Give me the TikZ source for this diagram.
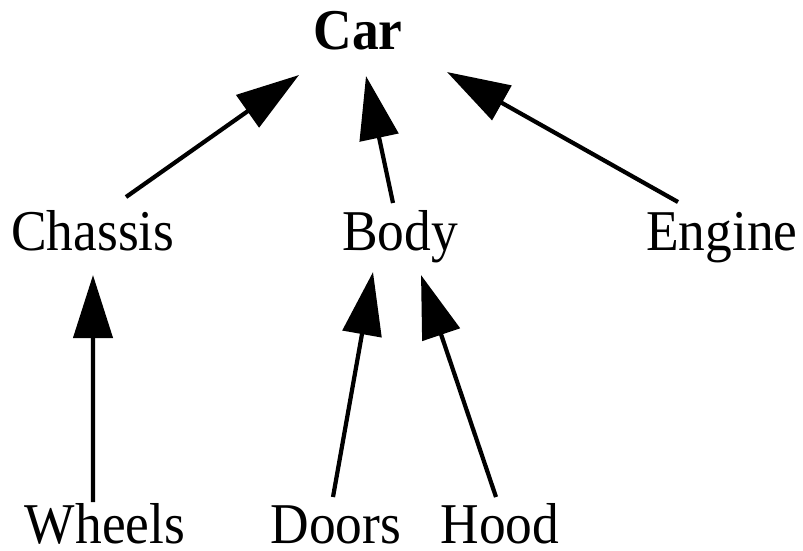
\documentclass[tikz,border=0pt]{standalone}
\usepackage{fontspec}
\usepackage{graphicx}
\setmainfont{Liberation Serif}
\usetikzlibrary{arrows.meta}
\newcommand{\tx}[1]{\scalebox{1}[1.08]{#1}}
\tikzset{
  lbl/.style={anchor=base, inner sep=0pt, font=\fontsize{15.2}{18}\selectfont},
  arr/.style={-{Triangle[length=6.3mm,width=3.9mm]}, line width=1.2pt, black}
}
\begin{document}
\begin{tikzpicture}
\useasboundingbox (0,0) rectangle (8.03,-5.50);
\node[lbl] (car) at (3.58,-0.49) {\tx{\bfseries Car}};
\node[lbl] (chassis) at (0.93,-2.50) {\tx{Chassis}};
\node[lbl] (body) at (4.00,-2.50) {\tx{Body}};
\node[lbl] (engine) at (7.22,-2.50) {\tx{Engine}};
\node[lbl] (wheels) at (1.05,-5.43) {\tx{Wheels}};
\node[lbl] (doors) at (3.36,-5.43) {\tx{Doors}};
\node[lbl] (hood) at (5.00,-5.43) {\tx{Hood}};
\draw[arr] ([shift={(0.33,0.53)}]chassis.base) -- ([shift={(-0.59,-0.26)}]car.base);
\draw[arr] ([shift={(-0.07,0.47)}]body.base) -- ([shift={(0.08,-0.27)}]car.base);
\draw[arr] ([shift={(-0.44,0.48)}]engine.base) -- ([shift={(0.89,-0.23)}]car.base);
\draw[arr] ([shift={(-0.12,0.41)}]wheels.base) -- ([shift={(0.00,-0.25)}]chassis.base);
\draw[arr] ([shift={(-0.03,0.46)}]doors.base) -- ([shift={(-0.27,-0.22)}]body.base);
\draw[arr] ([shift={(-0.04,0.46)}]hood.base) -- ([shift={(0.21,-0.25)}]body.base);
\end{tikzpicture}
\end{document}
